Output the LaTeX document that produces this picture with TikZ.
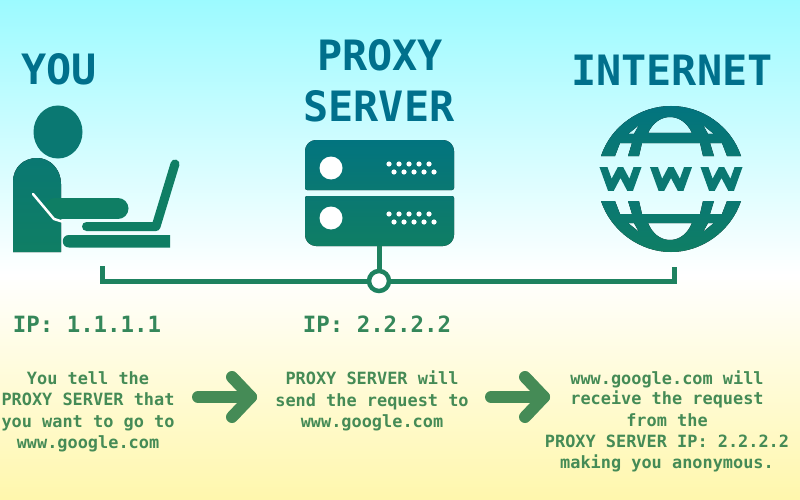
\documentclass[tikz,border=0pt]{standalone}
\usepackage{fontspec}
\setmonofont{DejaVu Sans Mono}[BoldFont={DejaVu Sans Mono Bold}]
\definecolor{bgtop}{HTML}{9CFAFF}
\definecolor{bgmid}{HTML}{FFFFFF}
\definecolor{bgbot}{HTML}{FFF7AC}
\definecolor{c1}{HTML}{00708C}
\definecolor{c2}{HTML}{02747F}
\definecolor{c3}{HTML}{0A7872}
\definecolor{c4}{HTML}{0F7E64}
\definecolor{c5}{HTML}{1E8260}
\definecolor{c6}{HTML}{35875A}
\definecolor{c7}{HTML}{458B56}
\tikzset{
  title/.style={font=\ttfamily\bfseries\fontsize{41.8}{42}\selectfont,text=c1,inner sep=0pt,anchor=base},
  body/.style={font=\ttfamily\bfseries\fontsize{16.9}{20}\selectfont,text=c7,inner sep=0pt,anchor=base},
  iplabel/.style={font=\ttfamily\bfseries\fontsize{22.4}{22}\selectfont,text=c6,inner sep=0pt,anchor=base},
  bigarrow/.style={draw=c7,line width=12pt,line cap=round,line join=round},
  wire/.style={draw=c5,line width=5pt},
  dot/.style={fill=white,draw=none}
}
\begin{document}
\begin{tikzpicture}[x=1pt,y=-1pt]
\useasboundingbox (0,0) rectangle (800,500);
\fill[top color=bgtop,bottom color=bgmid] (0,-1) rectangle (800,275);
\fill[top color=bgmid,bottom color=bgbot] (0,275) rectangle (800,501);
% titles
\node[title] (you) at (59,85) {YOU};
\node[title] (proxy) at (380,71) {PROXY};
\node[title] (server) at (379,122) {SERVER};
\node[title] (internet) at (672,86) {INTERNET};
% person
\fill[c3] (58,132) ellipse [x radius=24.5,y radius=26.5];
\fill[top color=c3,bottom color=c4] (13,252) -- (13,182) .. controls (13,167) and (24,158) .. (37,158) .. controls (50,158) and (61,169) .. (61,184) -- (61,252) -- cycle;
\draw[c4,line width=21pt,line cap=round] (55,208.5) -- (118,208.5);
\draw[white,line width=2.5pt,line cap=round,line join=round] (33,194) -- (54,219) -- (62,221.5);
\draw[c4,line width=9pt,line cap=round,line join=round] (86.5,226.5) -- (156,226.5) -- (175,164);
\fill[c4] (69,235) -- (170,235) -- (170,247.5) -- (69,247.5) .. controls (60.7,247.5) and (60.7,235) .. (69,235) -- cycle;
% server
\fill[top color=c2,bottom color=c3] (305,190) [rounded corners=2pt] -- (305,190) [rounded corners=11pt] -- (305,140) -- (454,140) [rounded corners=2pt] -- (454,190) -- cycle;
\fill[top color=c3,bottom color=c4] (305,196) [rounded corners=11pt] -- (305,246) -- (454,246) [rounded corners=2pt] -- (454,196) -- cycle;
\fill[dot] (331,168) circle (11.5);
\fill[dot] (331,218) circle (11.5);
\foreach \ya/\yb in {164/172,214/222}{
  \foreach \k in {0,...,4}{
    \fill[dot] (389+10*\k,\ya) circle (2.6);
    \fill[dot] (394+10*\k,\yb) circle (2.6);
  }
}
% wires
\coordinate (hub) at (379,281);
\coordinate (srv) at (379,246);
\coordinate (wl) at (102,266);
\coordinate (wr) at (674,267);
\draw[wire,line join=miter] (wl) |- (hub) -| (wr);
\draw[wire] (srv) -- (hub);
\filldraw[draw=c5,fill=white,line width=4.5pt] (hub) circle (10);
% globe
\fill[top color=c2,bottom color=c3,even odd rule]
  (601,156) .. controls (611,126) and (640,106) .. (671,106) .. controls (702,106) and (731,126) .. (741,156)
  -- (727,156) -- (722,143) -- (710,143) -- (714,156) -- (703,156) -- (700,143) -- (642,143) -- (639,156) -- (628,156) -- (632,143) -- (620,143) -- (615,156) -- cycle
  (648,133) .. controls (652,124) and (660,117) .. (670,117) .. controls (680,117) and (688,124) .. (692,133) -- cycle
  (628,134) -- (639,125) -- (634,134) -- cycle
  (703,125) -- (714,134) -- (708,134) -- cycle;
\fill[top color=c3,bottom color=c4,even odd rule]
  (601,201) .. controls (611,231) and (640,252) .. (671,252) .. controls (702,252) and (731,231) .. (741,201)
  -- (727,201) -- (722,214) -- (710,214) -- (714,201) -- (703,201) -- (700,214) -- (642,214) -- (639,201) -- (628,201) -- (632,214) -- (620,214) -- (615,201) -- cycle
  (648,223) .. controls (652,233) and (660,240) .. (670,240) .. controls (680,240) and (688,233) .. (692,223) -- cycle
  (628,223) -- (639,232) -- (634,223) -- cycle
  (703,232) -- (714,223) -- (708,223) -- cycle;
\begin{scope}
\clip (590,167) rectangle (750,190);
\foreach \c in {620.5,671,721.5}{
  \draw[c3,line width=7.5pt,line join=miter] (\c-18.5,163) -- (\c-9.5,188) -- (\c,170) -- (\c+9.5,188) -- (\c+18.5,163);
}
\end{scope}
% IP labels
\node[iplabel] (ipa) at (87,332) {IP: 1.1.1.1};
\node[iplabel] (ipb) at (377,332) {IP: 2.2.2.2};
% left text
\node[body] (l1) at (88,384) {You tell the};
\node[body] (l2) at (88,405) {PROXY SERVER that};
\node[body] (l3) at (88,427) {you want to go to};
\node[body] (l4) at (88,448) {www.google.com};
% middle
\node[body] (m1) at (372,384) {PROXY SERVER will};
\node[body] (m2) at (372,406) {send the request to};
\node[body] (m3) at (372,427) {www.google.com};
% right
\node[body] (r1) at (667,384) {www.google.com will};
\node[body] (r2) at (667,404) {receive the request};
\node[body] (r3) at (667,426) {from the};
\node[body] (r4) at (667,447) {PROXY SERVER IP: 2.2.2.2};
\node[body] (r5) at (667,468) {making you anonymous.};
% arrows
\coordinate (a1s) at (198,397);
\coordinate (a1t) at (251,397);
\coordinate (a2s) at (491,397);
\coordinate (a2t) at (544,397);
\draw[bigarrow] (a1s) -- (a1t);
\draw[bigarrow] (232,377) -- (a1t) -- (232,417);
\draw[bigarrow] (a2s) -- (a2t);
\draw[bigarrow] (525,377) -- (a2t) -- (525,417);
\end{tikzpicture}
\end{document}
